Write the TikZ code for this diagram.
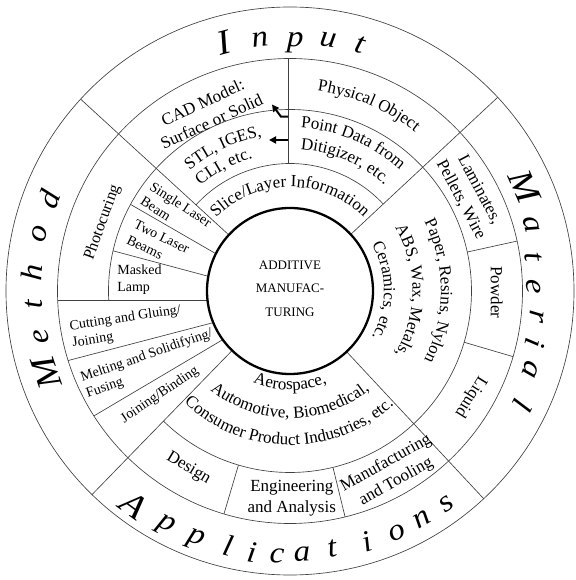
\documentclass[tikz,border=0pt]{standalone}
\usepackage{fontspec}
\setmainfont{Liberation Serif}
\usetikzlibrary{decorations.text,arrows.meta}

\newcommand\lblsz{\fontsize{17}{21}\selectfont}

% curved label whose baseline is an arc of radius #2 centred on angle #1,
% read clockwise (upper half and right side of the wheel)
\newcommand\cwlabel[3]{%
  \path[decorate,decoration={text along path,text align=center,
    text={|\lblsz|#3}}]
    (#1+60:#2) arc[start angle=#1+60,end angle=#1-60,radius=#2];}
% same, read counter-clockwise (lower half of the wheel)
\newcommand\ccwlabel[3]{%
  \path[decorate,decoration={text along path,text align=center,
    text={|\lblsz|#3}}]
    (#1-60:#2) arc[start angle=#1-60,end angle=#1+60,radius=#2];}

\begin{document}
\begin{tikzpicture}[x=1pt,y=1pt,
  rule/.style={draw=black!75,line width=0.65pt},
  hubring/.style={circle,draw=black,line width=2.3pt,fill=white,
    minimum size=166pt,inner sep=0pt},
  hubtext/.style={align=center,inner sep=0pt,font=\fontsize{13}{23.5}\selectfont},
  ringletter/.style={inner sep=0pt},
  lbl/.style={inner sep=0pt,align=center,font=\lblsz},
  sublbl/.style={inner sep=0pt,align=left,font=\fontsize{14}{17}\selectfont},
  feed/.style={line width=2pt,-{Triangle[length=7pt,width=7pt]}}]

\useasboundingbox (-290,-289) rectangle (285,291);
\fill[white] (-290,-289) rectangle (285,291);

% ---- rings ----
\draw[rule] (0,0) circle[radius=284pt];
\draw[rule] (0,0) circle[radius=232.5pt];
\draw[rule] (-134.2:181.5pt) arc[start angle=-134.2,end angle=183,radius=181.5pt];
\draw[rule] (43:127.5pt) arc[start angle=43,end angle=137.5,radius=127.5pt];

% ---- main sector boundaries ----
\draw[rule] (43:83pt) -- (43:284pt);
\draw[rule] (137.5:83pt) -- (137.5:284pt);
\draw[rule] (-47:83pt) -- (-47:284pt);
\draw[rule] (225.8:83pt) -- (225.8:284pt);

% ---- Input subdivisions ----
\draw[rule] (-2,127.5) -- (-2,232.5);

% ---- Material subdivisions ----
\draw[rule] (12.4:181.5pt) -- (12.4:232.5pt);
\draw[rule] (-16.4:181.5pt) -- (-16.4:232.5pt);

% ---- Applications subdivisions ----
\draw[rule] (253.5:181.5pt) -- (253.5:232.5pt);
\draw[rule] (283.7:181.5pt) -- (283.7:232.5pt);

% ---- Method subdivisions ----
\draw[rule] (153.3:83pt) -- (151.5:181.5pt);
\draw[rule] (169.8:83pt) -- (167.2:181.5pt);
\draw[rule] (-232.3,-9.5) -- (-82.5,-9.5);
\draw[rule] (202.4:83pt) -- (197.4:232.5pt);
\draw[rule] (215.9:83pt) -- (212.5:232.5pt);

% ---- hub ----
\node[hubring] (hub) at (0,0) {};
\node[hubtext] (hubtitle) at (0,2.5) {ADDITIVE\\MANUFAC-\\TURING};

% ---- ring titles ----
\foreach \ch/\a/\r/\s [count=\i] in
  {I/104.9/256.6pt/35, n/96.8/252.8pt/30, p/88.8/248.5pt/30,
   u/81.4/253.9pt/30, t/74.1/255.8pt/30}
  \node[ringletter,font=\fontsize{\s}{\s}\selectfont\itshape,rotate=\a-90]
    (inp-\i) at (\a:\r) {\scalebox{1.1}[1]{\ch}};
\foreach \ch/\a/\r/\s [count=\i] in
  {M/23.9/257pt/35, a/15.3/249.9pt/30, t/8.0/245.7pt/30, e/1.0/243.3pt/30,
   r/-5.9/248pt/30, i/-12.1/250.5pt/30, a/-18.2/252.7pt/30, l/-26.2/259pt/30}
  \node[ringletter,font=\fontsize{\s}{\s}\selectfont\itshape,rotate=\a-90]
    (mat-\i) at (\a:\r) {\scalebox{1.1}[1]{\ch}};
\foreach \ch/\a/\r/\s [count=\i] in
  {M/198.7/256.9pt/35, e/190.3/252.3pt/30, t/182.9/256pt/30,
   h/176/259pt/30, o/167.1/257pt/30, d/159.2/258pt/30}
  \node[ringletter,font=\fontsize{\s}{\s}\selectfont\itshape,rotate=\a-90]
    (met-\i) at (\a:\r) {\scalebox{1.1}[1]{\ch}};
\foreach \ch/\a/\r/\s [count=\i] in
  {A/234/265pt/35, p/242.1/266pt/30, p/249.2/266pt/30, l/256.3/262pt/30,
   i/261.7/264pt/30, c/267.2/265pt/30, a/272.6/264pt/30, t/279.3/261pt/30,
   i/287.1/262.5pt/30, o/293.9/264pt/30, n/300.1/264pt/30, s/306.3/264pt/30}
  \node[ringletter,font=\fontsize{\s}{\s}\selectfont\itshape,rotate=\a+90]
    (app-\i) at (\a:\r) {\scalebox{1.1}[1]{\ch}};

% ---- Input ----
\node[lbl,rotate=24.8] (cad) at (114.8:197.4pt) {CAD Model:\\Surface or Solid};
\cwlabel{67}{202pt}{Physical Object}
\cwlabel{115}{157pt}{STL, IGES,}
\cwlabel{118}{138pt}{CLI, etc.}
\cwlabel{67}{163.5pt}{Point Data from}
\cwlabel{67}{142pt}{Ditigizer, etc.}
\cwlabel{90}{104pt}{Slice/Layer Information}

\coordinate (stlTail) at (-2,151);
\coordinate (stlHead) at (-21,151);
\draw[feed] (stlTail) -- (stlHead);
\coordinate (cadTail) at (-2,174.3);
\coordinate (cadBend) at (-9,174.3);
\coordinate (cadHead) at (-18,186.5);
\draw[feed] (cadTail) -- (cadBend) -- (cadHead);

% ---- Material ----
\node[lbl,rotate=-62] (lam) at (28.1:204pt) {Laminates,\\Pellets, Wire};
\node[lbl,rotate=-90] (pow) at (-0.4:206.7pt) {Powder};
\node[lbl,rotate=-122] (liq) at (-30.3:209.3pt) {Liquid};
\cwlabel{0}{151pt}{Paper, Resins, Nylon}
\cwlabel{0}{122.5pt}{ABS, Wax, Metals,}
\cwlabel{0}{94pt}{Ceramics, etc.}

% ---- Applications ----
\ccwlabel{270}{99pt}{Aerospace,}
\ccwlabel{270}{127pt}{Automotive, Biomedical,}
\ccwlabel{269.5}{154pt}{Consumer Product Industries, etc.}
\node[lbl,rotate=29] (mft) at (-60.9:207.7pt) {Manufacturing\\and Tooling};
\node[lbl] (eng) at (270.5:207.3pt) {Engineering\\and Analysis};
\node[lbl,rotate=-31] (des) at (240.2:204.4pt) {Design};

% ---- Method ----
\node[lbl,rotate=70,font=\fontsize{16}{16}\selectfont] (pho) at (159.9:199.6pt) {Photocuring};
\node[sublbl,rotate=-33] (slb) at (-113.7,79.2) {Single Laser\\Beam};
\node[sublbl,rotate=-26] (tlb) at (-131.9,46.6) {Two Laser\\Beams};
\node[sublbl] (mlp) at (-150.5,11) {Masked\\Lamp};
\node[sublbl,rotate=8.5] (cgj) at (-163.4,-35.9) {Cutting and Gluing/\\Joining};
\node[sublbl,rotate=19] (msf) at (-140.5,-72.9) {Melting and Solidifying/\\Fusing};
\node[sublbl,rotate=34] (jbd) at (-130,-104) {Joining/Binding};
\end{tikzpicture}
\end{document}
